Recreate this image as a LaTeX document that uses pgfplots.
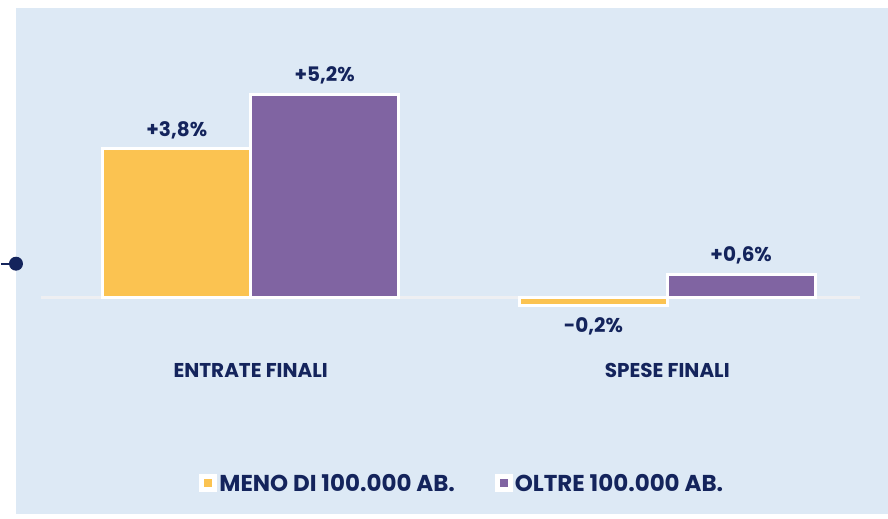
\documentclass[border=0pt]{standalone}
\usepackage{pgfplots}
\pgfplotsset{compat=1.18}
\usepackage{fontspec}
\setmainfont{Poppins}
\definecolor{bgpanel}{HTML}{DDE9F5}
\definecolor{cyel}{HTML}{FBC351}
\definecolor{cpur}{HTML}{8064A2}
\definecolor{navy}{HTML}{14245C}
\definecolor{baseln}{HTML}{EEEFF2}
\begin{document}
\begin{tikzpicture}[x=1pt,y=1pt]
\begin{axis}[
  scale only axis,
  width=873pt, height=507pt,
  xmin=-0.5635, xmax=1.530,
  ymin=-5.536, ymax=7.398,
  axis background/.style={fill=bgpanel},
  axis line style={draw=none},
  ytick=\empty,
  xtick={0,1},
  xticklabels={ENTRATE FINALI, SPESE FINALI},
  xtick style={draw=none},
  xticklabel style={anchor=center, yshift=148pt, font=\bfseries\fontsize{20}{20}\selectfont, text=navy},
  ybar,
  bar width=148pt,
  clip=false,
  nodes near coords={\pgfmathprintnumber[showpos, fixed, fixed zerofill, precision=1, use comma, assume math mode=true]{\pgfplotspointmeta}\%},
  every node near coord/.append style={font=\bfseries\fontsize{20}{20}\selectfont, text=navy, inner xsep=0pt, inner ysep=11pt, text depth=0pt},
  legend columns=2,
  legend style={at={(axis cs:0.508,-4.74)}, anchor=center, draw=none, fill=none,
    font=\bfseries\fontsize{23}{23}\selectfont, text=navy,
    /tikz/every even column/.append style={column sep=38pt}},
  legend image code/.code={
    \fill[white] (0pt,-7.5pt) rectangle (15pt,7.5pt);
    \fill[#1,draw=none] (3.5pt,-4pt) rectangle (11.5pt,4pt);
  },
]
\draw[baseln, line width=3pt] (axis cs:-0.504,0) -- (axis cs:1.463,0);
\addplot[fill=cyel, draw=white, line width=3pt, bar shift=-74pt,
  coordinate style/.condition={y<0}{inner ysep=15pt}]
  coordinates {(0,3.8) (1,-0.2)};
\addplot[fill=cpur, draw=white, line width=3pt, bar shift=74pt]
  coordinates {(0,5.2) (1,0.6)};
\legend{MENO DI 100.000 AB., OLTRE 100.000 AB.}
\draw[navy, line width=2pt] (axis cs:-0.5995,0.867) -- (axis cs:-0.5635,0.867);
\fill[navy] (axis cs:-0.5635,0.867) circle (7pt);
\end{axis}
\path (current axis.north west) ++(0,8pt);
\path (current axis.south west) ++(-15pt,0);
\end{tikzpicture}
\end{document}
